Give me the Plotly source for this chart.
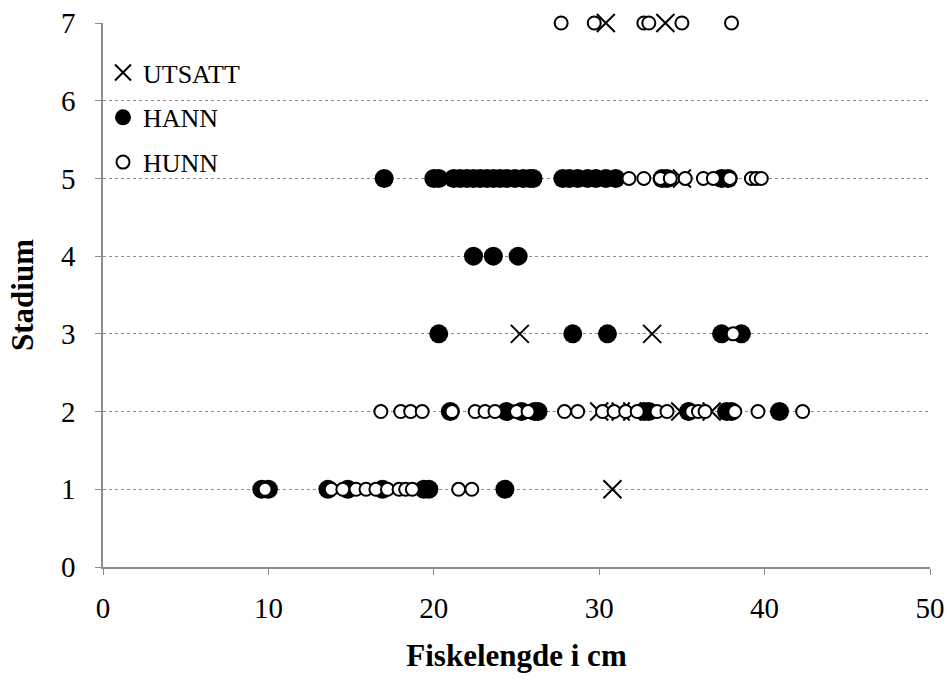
import plotly.graph_objects as go

# Fish length (cm) by maturity stage, per group
utsatt_len = [30.8, 30.0, 31.3, 32.0, 34.9, 36.8, 25.2, 33.2, 35.0, 30.4, 34.0]
utsatt_stage = [1, 2, 2, 2, 2, 2, 3, 3, 5, 7, 7]

hann_len = [
    9.6, 10.0, 13.6, 14.8, 16.9, 19.4, 19.7, 24.3,
    21.0, 24.4, 25.3, 26.1, 26.3, 32.7, 33.0, 35.4, 37.7, 38.0, 40.9,
    20.3, 28.4, 30.5, 37.4, 38.6,
    22.4, 23.6, 25.1,
    17.0, 20.0, 20.3, 21.2, 21.6, 22.0, 22.4, 22.8, 23.2, 23.6, 24.0, 24.4,
    24.9, 25.4, 25.8, 26.0, 27.8, 28.2, 28.7, 29.3, 29.8, 30.4, 31.0,
    33.8, 34.1, 37.4, 37.8,
]
hann_stage = (
    [1] * 8
    + [2] * 11
    + [3] * 5
    + [4] * 3
    + [5] * 27
)

hunn_len = [
    9.8, 13.8, 14.5, 15.3, 15.9, 16.5, 17.2, 17.9, 18.3, 18.7, 21.5, 22.3,
    16.8, 18.0, 18.6, 19.3, 21.1, 22.5, 23.1, 23.7, 25.0, 25.7, 27.9, 28.7,
    30.2, 30.9, 31.6, 32.3, 33.5, 34.1, 35.6, 36.0, 36.4, 38.2, 39.6, 42.3,
    38.1,
    31.8, 32.7, 33.7, 34.3, 35.2, 36.3, 36.9, 37.9, 39.2, 39.5, 39.8,
    27.7, 29.7, 32.7, 33.0, 35.0, 38.0,
]
hunn_stage = (
    [1] * 12
    + [2] * 24
    + [3] * 1
    + [5] * 11
    + [7] * 6
)

x_ticks = [0, 10, 20, 30, 40, 50]
y_ticks = [0, 1, 2, 3, 4, 5, 6, 7]

FONT = "Liberation Serif, Times New Roman, serif"
AXIS_GREY = "#8c8c8c"

fig = go.Figure()

fig.add_trace(go.Scatter(
    x=utsatt_len, y=utsatt_stage, mode="markers", name="UTSATT",
    legendgroup="utsatt", cliponaxis=False,
    marker=dict(symbol="x-thin", size=18, color="black",
                line=dict(color="black", width=2)),
))
fig.add_trace(go.Scatter(
    x=hann_len, y=hann_stage, mode="markers", name="HANN",
    legendgroup="hann", cliponaxis=False,
    marker=dict(symbol="circle", size=19, color="black",
                line=dict(color="black", width=0)),
))
fig.add_trace(go.Scatter(
    x=hunn_len, y=hunn_stage, mode="markers", name="HUNN",
    legendgroup="hunn", cliponaxis=False,
    marker=dict(symbol="circle", size=13, color="white",
                line=dict(color="black", width=2)),
))

fig.update_layout(
    width=947, height=684,
    margin=dict(l=103, r=17, t=23, b=117, autoexpand=False),
    paper_bgcolor="white", plot_bgcolor="white",
    font=dict(family=FONT, size=29, color="black"),
    showlegend=True,
    legend=dict(
        x=0.0, y=0.952, xanchor="left", yanchor="top",
        bgcolor="rgba(0,0,0,0)", borderwidth=0,
        font=dict(family=FONT, size=26, color="black"),
        itemsizing="trace", tracegroupgap=8, itemwidth=30,
    ),
)

fig.update_xaxes(
    range=[0, 50], tickvals=x_ticks, ticktext=[str(v) for v in x_ticks],
    showgrid=False, zeroline=False, automargin=False,
    showline=True, linecolor=AXIS_GREY, linewidth=1.5,
    ticks="outside", ticklen=6, tickcolor=AXIS_GREY, tickwidth=1,
    ticklabelstandoff=8,
    tickfont=dict(family=FONT, size=29),
    title=dict(text="<b>Fiskelengde i cm</b>", standoff=22,
               font=dict(family=FONT, size=31)),
)
fig.update_yaxes(
    range=[0, 7], tickvals=y_ticks, ticktext=[str(v) for v in y_ticks],
    showgrid=True, gridcolor="#8c8c8c", gridwidth=1, griddash="dot",
    zeroline=False, automargin=False,
    showline=True, linecolor=AXIS_GREY, linewidth=1.5,
    ticks="outside", ticklen=6, tickcolor=AXIS_GREY, tickwidth=1,
    ticklabelstandoff=14,
    tickfont=dict(family=FONT, size=29),
    title=dict(text="<b>Stadium</b>", standoff=18,
               font=dict(family=FONT, size=31)),
)

fig.write_html("out.html")
